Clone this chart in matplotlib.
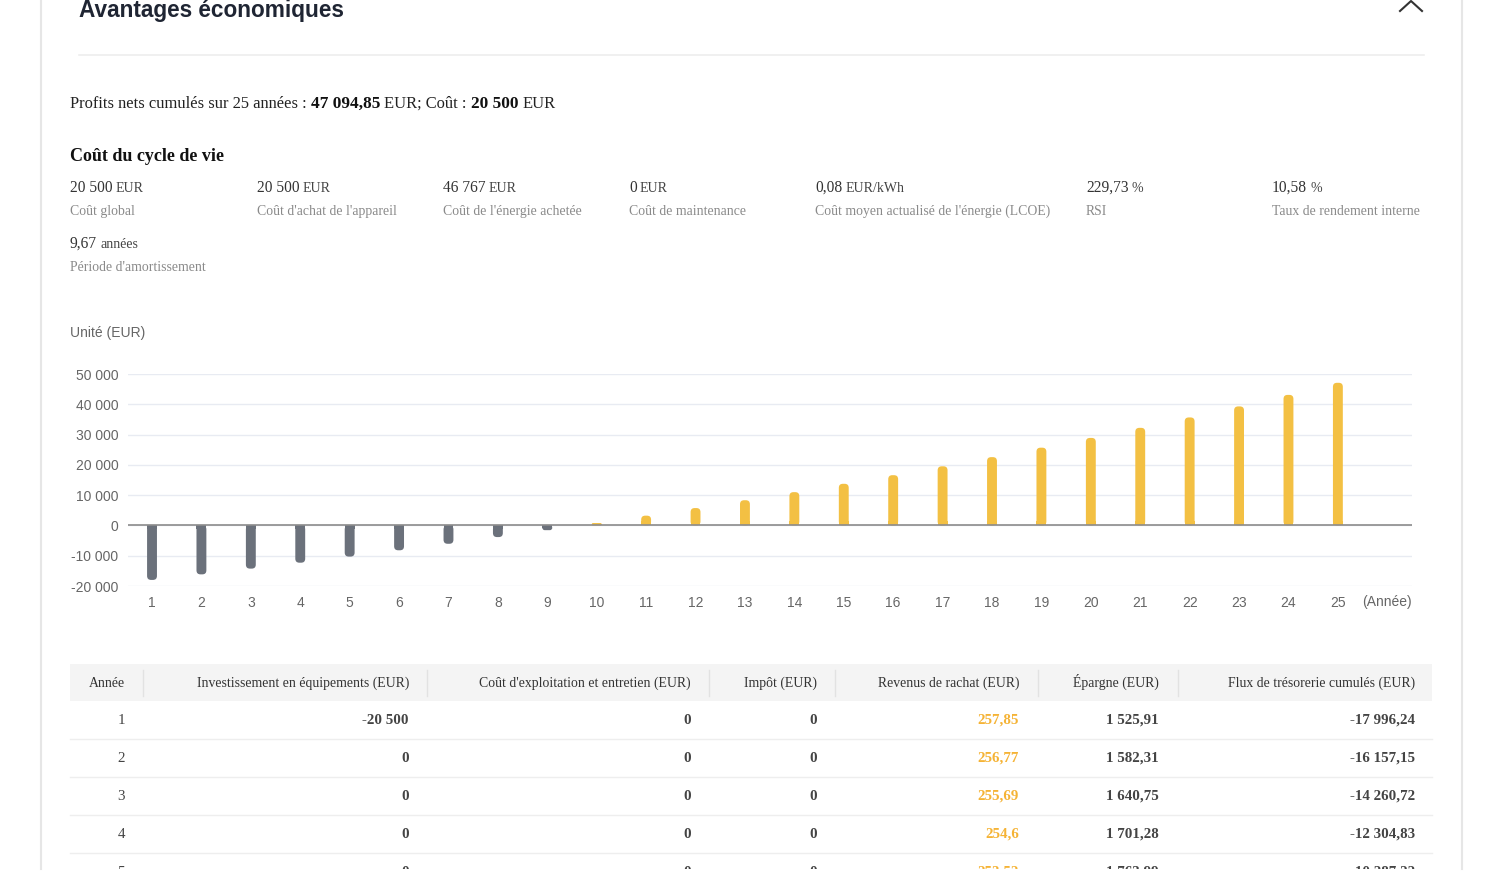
import matplotlib
matplotlib.use("Agg")
import matplotlib.pyplot as plt
from matplotlib.patches import Rectangle, FancyBboxPatch
from matplotlib.ticker import FuncFormatter

# chart data (cumulated cash flow per year, EUR)
years = list(range(1, 26))
cumul = [-17996.24, -16157.15, -14260.72, -12304.83, -10287.22, -8206, -6060, -3846, -1562, 794,
         3225, 5733, 8321, 10991, 13746, 16589, 19522, 22549, 25673, 28897,
         32224, 35658, 39300, 43100, 47094.85]
yticks = [-20000, -10000, 0, 10000, 20000, 30000, 40000, 50000]

# summary texts
metric_values = ["20 500", "20 500", "46 767", "0", "0,08", "229,73", "10,58", "9,67"]
metric_units = ["EUR", "EUR", "EUR", "EUR", "EUR/kWh", "%", "%", "années"]
metric_labels = ["Coût global", "Coût d'achat de l'appareil", "Coût de l'énergie achetée",
                 "Coût de maintenance", "Coût moyen actualisé de l'énergie (LCOE)", "RSI",
                 "Taux de rendement interne", "Période d'amortissement"]

# table data
tab_headers = ["Année", "Investissement en équipements (EUR)", "Coût d'exploitation et entretien (EUR)",
               "Impôt (EUR)", "Revenus de rachat (EUR)", "Épargne (EUR)", "Flux de trésorerie cumulés (EUR)"]
tab_year = ["1", "2", "3", "4", "5"]
tab_invest = ["-20 500", "0", "0", "0", "0"]
tab_exploit = ["0", "0", "0", "0", "0"]
tab_impot = ["0", "0", "0", "0", "0"]
tab_rachat = ["257,85", "256,77", "255,69", "254,6", "253,52"]
tab_epargne = ["1 525,91", "1 582,31", "1 640,75", "1 701,28", "1 763,99"]
tab_flux = ["-17 996,24", "-16 157,15", "-14 260,72", "-12 304,83", "-10 287,22"]

W, H = 1500, 888
fig = plt.figure(figsize=(15, 8.88), dpi=100)
fig.patch.set_facecolor("white")

SERIF = "Liberation Serif"
SANS = "Liberation Sans"

# page layer in pixel coords
page = fig.add_axes([0, 0, 1, 1])
page.set_xlim(0, W)
page.set_ylim(H, 0)
page.axis("off")
renderer = fig.canvas.get_renderer()


def chain(ax, x, y, pieces, gap=4):
    for txt, kw in pieces:
        t = ax.text(x, y, txt, va="baseline", ha="left", **kw)
        bb = t.get_window_extent(renderer)
        x += bb.width + gap
    return x


# card borders
page.plot([41, 41], [0, 869], color="#e6e6e6", lw=1.5)
page.plot([1462, 1462], [0, 869], color="#e6e6e6", lw=1.5)

# title
page.text(79, 11, "Avantages économiques", fontsize=16.3, fontweight="bold", family=SANS,
          color="#1f2533", va="center", ha="left")
page.plot([1400, 1411, 1422], [11, 1, 11], color="#333333", lw=1.5)
page.plot([79, 1424], [55, 55], color="#eeeeee", lw=1.2)

# summary line
chain(page, 70, 108, [
    ("Profits nets cumulés sur 25 années :", dict(fontsize=11.9, family=SERIF, color="#222222")),
    ("47 094,85", dict(fontsize=12.4, family=SERIF, fontweight="bold", color="#111111")),
    ("EUR; Coût :", dict(fontsize=11.9, family=SERIF, color="#222222")),
    ("20 500", dict(fontsize=12.4, family=SERIF, fontweight="bold", color="#111111")),
    ("EUR", dict(fontsize=11.9, family=SERIF, color="#222222")),
])

page.text(70, 161, "Coût du cycle de vie", fontsize=13, fontweight="bold", family=SERIF,
          color="#111111", va="baseline", ha="left")

metric_x = [70, 257, 443, 629, 815, 1086, 1272, 70]
metric_y = [192, 192, 192, 192, 192, 192, 192, 248]
for i in range(len(metric_values)):
    chain(page, metric_x[i], metric_y[i], [
        (metric_values[i], dict(fontsize=11.2, family=SERIF, color="#333333")),
        (metric_units[i], dict(fontsize=10, family=SERIF, color="#444444")),
    ], gap=3)
    page.text(metric_x[i], metric_y[i] + 23, metric_labels[i], fontsize=9.9, family=SERIF,
              color="#8a8a8a", va="baseline", ha="left")

# chart
page.text(70, 333, "Unité (EUR)", fontsize=10, family=SANS, color="#666666", va="center", ha="left")

ax = fig.add_axes([128 / W, 1 - 586 / H, (1412 - 128) / W, (586 - 374) / H])
ax.set_facecolor("none")
ax.set_xlim(0.514, 26.5)
ax.set_ylim(-20000, 50000)
bw = 0.2
px_x = (1412 - 128) / (26.5 - 0.514)
px_y = (586 - 374) / 70000.0
for x, v in zip(years, cumul):
    c = "#6b717b" if v < 0 else "#f3c043"
    hpx = abs(v) * px_y
    r = min(4.0, hpx / 2.0, bw * px_x / 2.0)
    y0 = min(0, v)
    if r < 1.0:
        ax.add_patch(Rectangle((x - bw / 2, y0), bw, abs(v), color=c, lw=0, zorder=3))
        continue
    ax.add_patch(FancyBboxPatch((x - bw / 2, y0), bw, abs(v),
                                boxstyle="round,pad=0,rounding_size=%f" % (r / px_x),
                                mutation_aspect=px_x / px_y, color=c, lw=0, zorder=3))
    # square off the end sitting on the zero line
    ax.add_patch(Rectangle((x - bw / 2, 0 if v > 0 else -r / px_y), bw, r / px_y, color=c, lw=0, zorder=3))
ax.set_yticks(yticks)
ax.yaxis.set_major_formatter(FuncFormatter(lambda v, p: "{:,.0f}".format(v).replace(",", " ")))
ax.set_xticks(years)
ax.grid(axis="y", color="#e8ebf2", lw=1, zorder=0)
ax.axhline(0, color="#8c8c8c", lw=1.2, zorder=4)
for s in ax.spines.values():
    s.set_visible(False)
ax.tick_params(axis="both", length=0, labelsize=10, labelcolor="#666666")
ax.tick_params(axis="y", pad=7)
ax.tick_params(axis="x", pad=7.5)
for lab in ax.get_xticklabels() + ax.get_yticklabels():
    lab.set_family(SANS)
page.text(1412, 602, "(Année)", fontsize=10, family=SANS, color="#666666", va="center", ha="right")

# table (clipped at the bottom like the screenshot)
tab = fig.add_axes([0, 1 - 869 / H, 1, (869 - 660) / H])
tab.set_xlim(0, W)
tab.set_ylim(869, 660)
tab.axis("off")
tab.add_patch(Rectangle((70, 664), 1432 - 70, 37, color="#f4f4f4", lw=0))
for sx in [143, 427, 709, 835, 1038, 1178]:
    tab.plot([sx, sx], [670, 696], color="#e2e2e2", lw=1)

col_x = [107, 409, 691, 817, 1019, 1159, 1415]
col_ha = ["center", "right", "right", "right", "right", "right", "right"]
for i, h in enumerate(tab_headers):
    tab.text(col_x[i], 687, h, fontsize=9.9, family=SERIF, color="#333333", va="baseline", ha=col_ha[i])

columns = [tab_year, tab_invest, tab_exploit, tab_impot, tab_rachat, tab_epargne, tab_flux]
val_x = [121, 409, 691, 817, 1019, 1159, 1415]
for r in range(len(tab_year)):
    y = 719 + 38 * r
    for c, col in enumerate(columns):
        tab.text(val_x[c], y + 5, col[r], fontsize=10.8, family=SERIF,
                 fontweight="normal" if c == 0 else "bold",
                 color="#f5b335" if c == 4 else "#444444",
                 va="baseline", ha="center" if c == 0 else "right", clip_on=True)
    if r < len(tab_year) - 1:
        tab.plot([70, 1432], [y + 20, y + 20], color="#eeeeee", lw=1)

fig.savefig("out.png", dpi=100, facecolor="white")
